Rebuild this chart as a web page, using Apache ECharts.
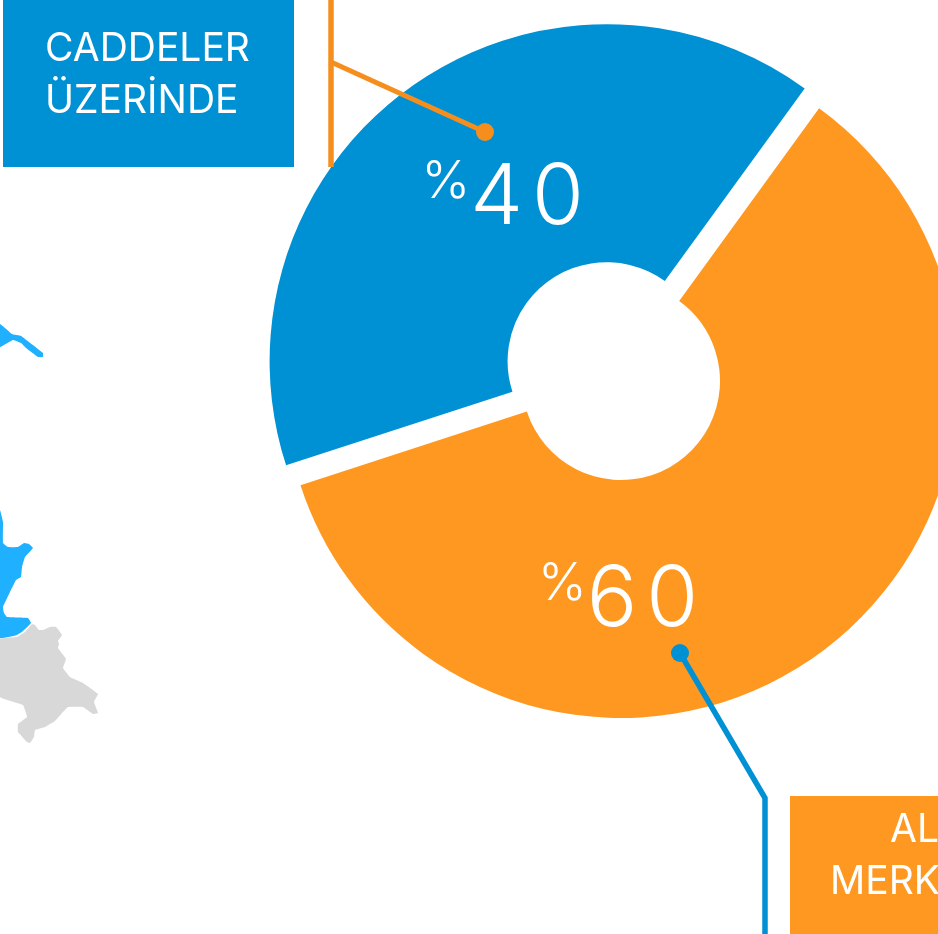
<!DOCTYPE html>
<html>
<head>
<meta charset="utf-8">
<style>html,body{margin:0;padding:0;background:#fff;overflow:hidden}#c{width:938px;height:934px}</style>
<script src="https://cdn.jsdelivr.net/npm/echarts@6/dist/echarts.min.js"></script>
</head>
<body>
<div id="c"></div>
<script>
const categories = ['CADDELER ÜZERİNDE', 'ALIŞVERİŞ MERKEZİNDE'];
const shares = [40, 60];
const sliceColors = ['#0091D5', '#FF9820'];
const topBoxLines = ['CADDELER', 'ÜZERİNDE'];
const bottomBoxLines = ['ALIŞVERİŞ', 'MERKEZİNDE'];
const labelFont = 'Inter, Lato, sans-serif';

const chart = echarts.init(document.getElementById('c'), null, {renderer: 'canvas'});

function poly(points, fill) {
  return {type: 'polygon', z: 1, silent: true, shape: {points, smooth: 0.08}, style: {fill}};
}
function boxText(text, x, y) {
  return {type: 'text', z: 12, silent: true, x, y: y - 32,
    style: {text, fill: '#fff', font: '400 39px ' + labelFont}};
}

chart.setOption({
  backgroundColor: '#fff',
  animation: false,
  series: [{
    type: 'pie',
    center: [621, 381],
    radius: [99, 337],
    startAngle: 198,
    selectedMode: 'multiple',
    selectedOffset: 24.5,
    silent: true,
    emphasis: {disabled: true},
    labelLine: {show: false},
    label: {
      show: true,
      position: 'inside',
      formatter: p => {
        const d = String(p.value);
        return '{p|%}{v|' + d[0] + '}{w|' + d[1] + '}';
      },
      rich: {
        p: {fontFamily: labelFont, fontWeight: 300, fontSize: 52, color: '#fff', verticalAlign: 'top'},
        v: {fontFamily: labelFont, fontWeight: 300, fontSize: 84, color: '#fff', padding: [1, 0, 0, 0]},
        w: {fontFamily: labelFont, fontWeight: 300, fontSize: 84, color: '#fff', padding: [1, 0, 0, 9]}
      }
    },
    labelLayout: p => p.dataIndex === 1 ? {x: 538, y: 558, align: 'left', verticalAlign: 'top'} : {},
    data: categories.map((name, i) => ({
      name, value: shares[i], selected: i === 0,
      label: i === 0 ? {padding: [32, 0, 0, 52]} : {},
      itemStyle: {color: sliceColors[i]}
    }))
  }],
  graphic: {elements: [
    // map fragments
    poly([[0,324],[12,334],[21,336],[43,353],[43,357],[38,357],[26,348],[21,343],[13,340],[0,347]], '#1FB0FF'),
    poly([[0,510],[3,522],[3,543],[8,547],[18,547],[24,543],[29,544],[33,548],[25,557],[22,567],[21,577],[16,580],[3,607],[4,613],[7,617],[28,618],[31,623],[23,631],[17,635],[0,638]], '#1FB0FF'),
    poly([[0,639],[17,637],[25,632],[32,624],[35,625],[39,630],[43,630],[50,627],[56,627],[62,635],[58,641],[59,644],[58,648],[66,659],[63,668],[70,677],[83,683],[98,694],[94,702],[98,713],[93,714],[83,707],[68,707],[62,713],[55,721],[45,727],[35,730],[34,737],[30,743],[27,742],[18,732],[18,724],[27,717],[23,705],[0,697]], '#D8D8D8'),
    // boxes
    {type: 'rect', z: 11, silent: true, shape: {x: 3, y: 0, width: 291, height: 167}, style: {fill: '#0091D5'}},
    {type: 'rect', z: 11, silent: true, shape: {x: 790, y: 796, width: 148, height: 138}, style: {fill: '#FF9820'}},
    boxText(topBoxLines[0], 45, 62),
    boxText(topBoxLines[1], 45, 114),
    boxText(bottomBoxLines[0], 890, 843),
    boxText(bottomBoxLines[1], 830, 895),
    // leaders
    {type: 'polyline', z: 13, silent: true, shape: {points: [[331,0],[331,167]]}, style: {stroke: '#F68E1E', lineWidth: 5.5, fill: null}},
    {type: 'polyline', z: 13, silent: true, shape: {points: [[331,62],[485,132]]}, style: {stroke: '#F68E1E', lineWidth: 5, fill: null}},
    {type: 'circle', z: 13, silent: true, shape: {cx: 485, cy: 132, r: 9}, style: {fill: '#F68E1E'}},
    {type: 'polyline', z: 13, silent: true, shape: {points: [[680,653],[765,798],[765,934]]}, style: {stroke: '#0091D5', lineWidth: 5.5, fill: null, lineJoin: 'miter'}},
    {type: 'circle', z: 13, silent: true, shape: {cx: 680, cy: 653, r: 9}, style: {fill: '#0091D5'}}
  ]}
});
</script>
</body>
</html>
